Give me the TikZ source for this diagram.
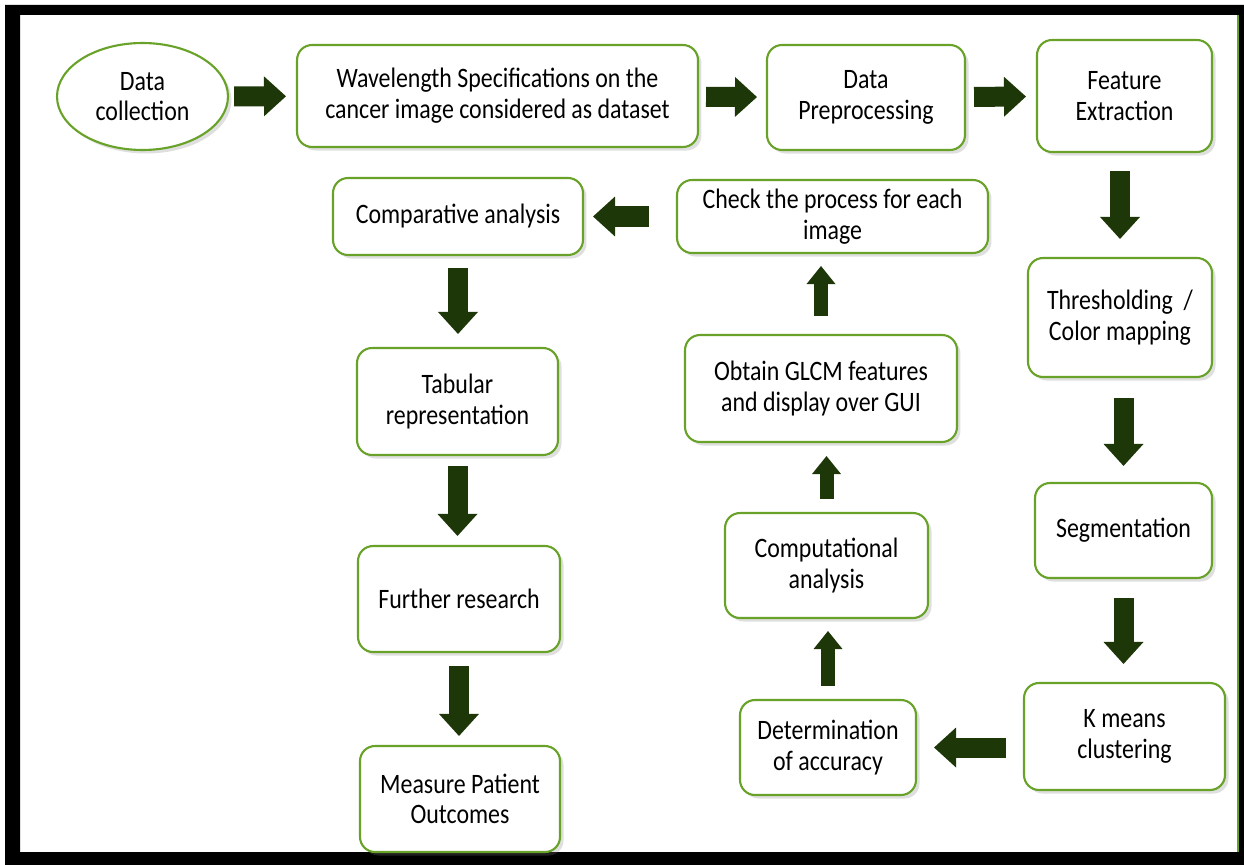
\documentclass[tikz,border=0pt]{standalone}
\usepackage{fontspec}
\setmainfont{Carlito}[FakeStretch=0.85]
\usepackage{xcolor}
\definecolor{boxgreen}{RGB}{104,162,40}
\definecolor{arrowgreen}{RGB}{30,55,8}
\usepackage{tikz}
\usetikzlibrary{arrows.meta,shapes.geometric,shadows}
\tikzset{
  stepbox/.style={draw=boxgreen,line width=1.2pt,rounded corners=0.3cm,fill=white,%
    align=center,inner sep=2pt,font=\fontsize{16}{17.5}\selectfont,%
    drop shadow={shadow xshift=2pt,shadow yshift=-2pt,opacity=0.25}},
  flow/.style={line width=0.4cm,draw=arrowgreen,%
    -{Triangle[length=0.44cm,width=0.8cm,line width=0pt]}},
  flowsm/.style={line width=0.28cm,draw=arrowgreen,%
    -{Triangle[length=0.36cm,width=0.58cm,line width=0pt]}},
}
\begin{document}
\begin{tikzpicture}[x=0.02cm,y=-0.02cm]
\useasboundingbox (0,0) rectangle (1244,865);
% frame
\fill[black,even odd rule] (5,5) rectangle (1244,865) (20,15) rectangle (1239,852);
\draw[boxgreen,line width=0.04cm] (1238,15) -- (1238,852);
% top row
\node[stepbox,ellipse,rounded corners=0pt,minimum width=3.42cm,minimum height=2.14cm] (dc) at (142.5,96.5) {Data\\collection};
\node[stepbox,minimum width=8.02cm,minimum height=2.04cm] (wl) at (497.5,96) {Wavelength Specifications on the\\cancer image considered as dataset};
\node[stepbox,minimum width=3.96cm,minimum height=2.1cm] (dp) at (866,97.5) {Data\\Preprocessing};
\node[stepbox,minimum width=3.5cm,minimum height=2.24cm] (fe) at (1124.5,96) {Feature\\Extraction};
% right column
\node[stepbox,minimum width=3.68cm,minimum height=2.38cm] (th) at (1120,317.5) {Thresholding\ \ /\\Color mapping};
\node[stepbox,minimum width=3.54cm,minimum height=1.9cm] (sg) at (1123.5,530.5) {Segmentation};
\node[stepbox,minimum width=4.02cm,minimum height=2.14cm] (km) at (1124.5,736.5) {K means\\clustering};
% middle column
\node[stepbox,minimum width=3.52cm,minimum height=1.9cm] (da) at (828,747.5) {Determination\\of accuracy};
\node[stepbox,minimum width=4.06cm,minimum height=2.1cm] (ca) at (826.5,565.5) {Computational\\analysis};
\node[stepbox,minimum width=5.44cm,minimum height=2.14cm] (gl) at (821,388.5) {Obtain GLCM features\\and display over GUI};
\node[stepbox,minimum width=6.22cm,minimum height=1.46cm] (ch) at (832.5,216.5) {Check the process for each\\image};
% left column
\node[stepbox,minimum width=5.0cm,minimum height=1.54cm] (cp) at (458,216.5) {Comparative analysis};
\node[stepbox,minimum width=4.02cm,minimum height=2.14cm] (tb) at (457.5,401.5) {Tabular\\representation};
\node[stepbox,minimum width=4.04cm,minimum height=2.12cm] (fr) at (459,599) {Further research};
\node[stepbox,minimum width=4.0cm,minimum height=2.12cm] (mp) at (460,799) {Measure Patient\\Outcomes};
% arrows
\draw[flow,shorten <=0.1cm,shorten >=0.2cm] (dc) -- (wl);
\draw[flow,shorten <=0.14cm,shorten >=0.18cm] (wl) -- (dp);
\draw[flow,shorten <=0.16cm,shorten >=0.2cm] (dp) -- (fe);
\draw[flow,shorten <=0.36cm,shorten >=0.36cm] (fe.south -| th.north) -- (th.north);
\draw[flow,shorten <=0.4cm,shorten >=0.32cm] (th.south -| sg.north) -- (sg.north);
\draw[flow,shorten <=0.38cm,shorten >=0.36cm] (sg.south) -- (sg.south |- km.north);
\draw[flow,shorten <=0.34cm,shorten >=0.34cm] (km.west |- da.east) -- (da.east);
\draw[flowsm,shorten <=0.26cm,shorten >=0.24cm] (da.north) -- (da.north |- ca.south);
\draw[flowsm,shorten <=0.26cm,shorten >=0.26cm] (ca.north) -- (ca.north |- gl.south);
\draw[flowsm,shorten <=0.36cm,shorten >=0.24cm] (gl.north) -- (gl.north |- ch.south);
\draw[flow,line width=0.44cm,shorten <=0.54cm,shorten >=0.18cm] (ch) -- (cp);
\draw[flow,shorten <=0.24cm,shorten >=0.26cm] (cp.south) -- (cp.south |- tb.north);
\draw[flow,shorten <=0.2cm,shorten >=0.18cm] (tb.south) -- (tb.south |- fr.north);
\draw[flow,shorten <=0.26cm,shorten >=0.18cm] (fr.south) -- (fr.south |- mp.north);
\end{tikzpicture}
\end{document}
